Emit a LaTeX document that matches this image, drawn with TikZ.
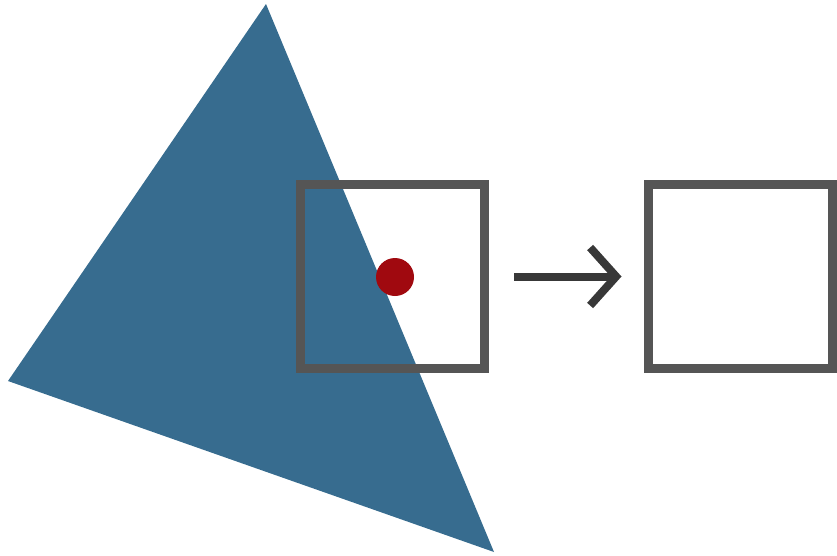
\documentclass[tikz,border=0pt]{standalone}
\usetikzlibrary{arrows.meta}
\definecolor{tri}{HTML}{376C8F}
\definecolor{boxc}{HTML}{555555}
\definecolor{arrc}{HTML}{383838}
\definecolor{dotc}{HTML}{A0090F}
\begin{document}
\begin{tikzpicture}[x=1pt,y=-1pt,
  sq/.style={draw=boxc,line width=9pt,minimum size=184pt,inner sep=0pt,fill=none},
  dot/.style={circle,fill=dotc,minimum size=38pt,inner sep=0pt},
  arr/.style={draw=arrc,line width=8pt,-{Straight Barb[length=26pt,width=58pt,line width=8pt]}}]
\useasboundingbox (0,0) rectangle (837,555);
\fill[tri] (266,4) -- (8,381) -- (494,552) -- cycle;
\node[sq] (a) at (392.5,276.5) {};
\node[sq] (b) at (740,276.5) {};
\node[dot] (p) at (395,277) {};
\draw[arr,shorten <=25pt,shorten >=22pt] (a.east) -- (b.west);
\end{tikzpicture}
\end{document}
